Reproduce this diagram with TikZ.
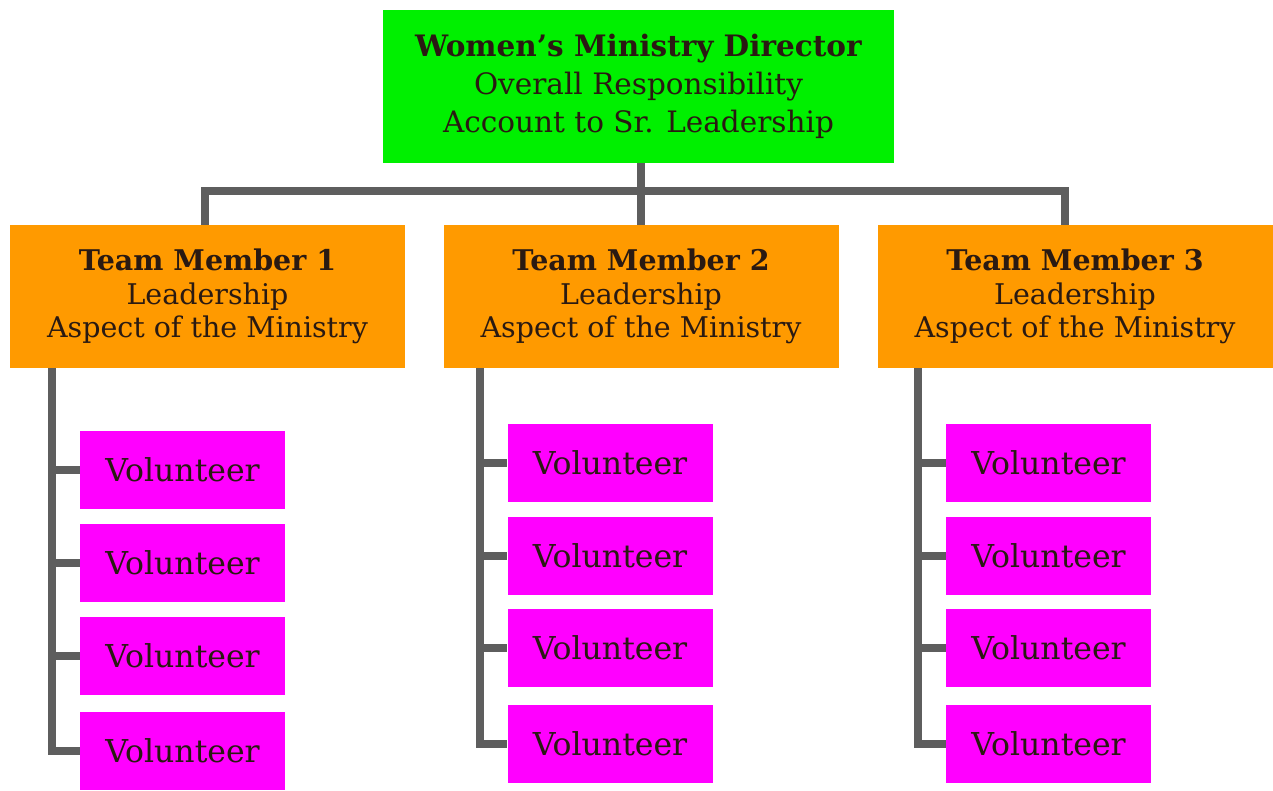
\documentclass[tikz,border=0pt]{standalone}
\usepackage{fontspec}
\setmainfont{DejaVu Serif}
\usepackage{xcolor}
\definecolor{dirgreen}{HTML}{00F000}
\definecolor{teamorange}{HTML}{FF9A00}
\definecolor{volmagenta}{HTML}{FF00FF}
\definecolor{linkgray}{HTML}{5E5E5E}
\definecolor{inkbrown}{HTML}{2A1A12}
\usetikzlibrary{positioning}

\begin{document}
\begin{tikzpicture}[x=1pt,y=-1pt,
    box/.style = {inner sep=0pt, align=center, text=inkbrown,
      font=\fontsize{28.5}{33.5}\selectfont},
    director/.style = {box, fill=dirgreen, minimum width=511pt, minimum height=153pt,
      font=\fontsize{29.5}{38}\selectfont},
    member/.style   = {box, fill=teamorange, minimum width=395pt, minimum height=143pt},
    volunteer/.style= {box, fill=volmagenta, minimum width=205pt, minimum height=78pt,
      font=\fontsize{31.5}{36}\selectfont},
    link/.style     = {draw=linkgray, line width=8pt},
  ]
  \useasboundingbox (0,0) rectangle (1273,790);
  % top level
  \node[director] (dir) at (638.5,86.5)
    {\textbf{Women's Ministry Director}\\Overall Responsibility\\Account to Sr. Leadership};
  % team members
  \node[member] (tm1) at (207.5,296.5)
    {\textbf{Team Member 1}\\Leadership\\Aspect of the Ministry};
  \node[member] (tm2) at (641,296.5)
    {\textbf{Team Member 2}\\Leadership\\Aspect of the Ministry};
  \node[member] (tm3) at (1075,296.5)
    {\textbf{Team Member 3}\\Leadership\\Aspect of the Ministry};
  % volunteers
  \foreach \i/\y in {1/470,2/563,3/656,4/751}
    \node[volunteer] (va\i) at (182.5,\y) {Volunteer};
  \foreach \i/\y in {1/463,2/556,3/648,4/744}
  {
    \node[volunteer] (vb\i) at (610,\y) {Volunteer};
    \node[volunteer] (vc\i) at (1048.5,\y) {Volunteer};
  }
  % connectors
  \coordinate (barL) at (205,191);
  \coordinate (barR) at (1065,191);
  \draw[link] (barL |- tm1.north) -- (barL) -- (barR) -- (barR |- tm3.north);
  \draw[link] (dir.south -| tm2.north) -- (tm2.north);
  \coordinate (spa) at (52,0);
  \coordinate (spb) at (480,0);
  \coordinate (spc) at (918,0);
  \foreach \s/\t in {a/1,b/2,c/3}
  {
    \draw[link] (sp\s |- tm\t.south) |- (v\s4.west);
    \foreach \i in {1,...,3}
      \draw[link] (sp\s |- v\s\i.west) -- (v\s\i.west);
  }
\end{tikzpicture}
\end{document}
